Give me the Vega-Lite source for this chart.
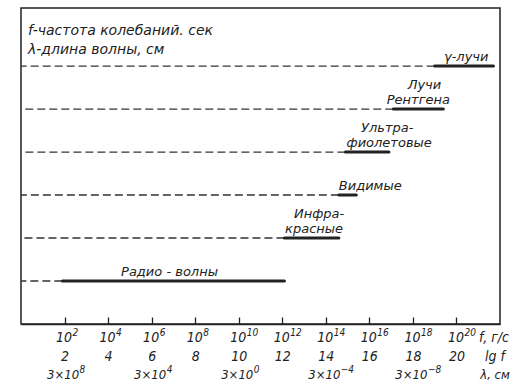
{
  "$schema": "https://vega.github.io/schema/vega-lite/v6.json",
  "width": 479,
  "height": 316,
  "autosize": "none",
  "padding": {"left": 21, "top": 8, "right": 26, "bottom": 67},
  "background": "white",
  "config": {
    "view": {"stroke": "#222", "strokeWidth": 1.5},
    "font": "DejaVu Sans",
    "axis": {
      "labelFont": "Liberation Sans Narrow, DejaVu Sans Condensed, Liberation Sans",
      "labelFontStyle": "italic",
      "labelColor": "#222",
      "labelBaseline": "middle",
      "labelOverlap": false,
      "labelFlush": false,
      "labelBound": false,
      "grid": false,
      "title": null
    }
  },
  "resolve": {"axis": {"x": "independent"}},
  "datasets": {
    "bands": [
      {"name": "Радио-волны", "row": 1, "start": 1.9, "end": 12.1},
      {"name": "Инфракрасные", "row": 2, "start": 12.1, "end": 14.6},
      {"name": "Видимые", "row": 3, "start": 14.6, "end": 15.4},
      {"name": "Ультрафиолетовые", "row": 4, "start": 14.9, "end": 16.9},
      {"name": "Лучи Рентгена", "row": 5, "start": 17.1, "end": 19.4},
      {"name": "γ-лучи", "row": 6, "start": 19.0, "end": 21.7}
    ],
    "labels": [
      {"text": "Радио - волны", "lg": 6.82, "row": 1, "line": 0},
      {"text": "красные", "lg": 13.46, "row": 2, "line": 0},
      {"text": "Инфра-", "lg": 13.69, "row": 2, "line": 1},
      {"text": "Видимые", "lg": 16.04, "row": 3, "line": 0},
      {"text": "фиолетовые", "lg": 16.91, "row": 4, "line": 0},
      {"text": "Ультра-", "lg": 16.82, "row": 4, "line": 1},
      {"text": "Рентгена", "lg": 18.25, "row": 5, "line": 0},
      {"text": "Лучи", "lg": 18.53, "row": 5, "line": 1},
      {"text": "γ-лучи", "lg": 20.45, "row": 6, "line": 0}
    ],
    "header": [
      {"text": "f-частота колебаний. сек", "lg": 0.32, "row": 6.72},
      {"text": "λ-длина волны, см", "lg": 0.32, "row": 6.28}
    ]
  },
  "layer": [
    {
      "data": {"name": "bands"},
      "mark": {"type": "rule", "strokeDash": [8, 4], "strokeWidth": 1.3, "color": "#333"},
      "encoding": {
        "x": {
          "field": "start",
          "type": "quantitative",
          "scale": {"domain": [0, 22], "nice": false, "zero": false},
          "axis": {
            "orient": "bottom",
            "values": [2, 4, 6, 8, 10, 12, 14, 16, 18, 20, 21.75],
            "domainColor": "#222",
            "domainWidth": 1.5,
            "tickColor": {"condition": {"test": "datum.value > 21", "value": "transparent"}, "value": "#222"},
            "tickSize": -7,
            "tickWidth": 1.3,
            "labelFontSize": 14,
            "labelPadding": 39,
            "labelExpr": "datum.value > 21 ? 'lg f' : format(datum.value, 'd')"
          }
        },
        "x2": {"datum": 0},
        "y": {"field": "row", "type": "quantitative", "scale": {"domain": [0, 7.35], "nice": false, "zero": false}, "axis": null}
      }
    },
    {
      "data": {"name": "bands"},
      "mark": {"type": "rule", "strokeWidth": 3, "color": "#222", "strokeCap": "round"},
      "encoding": {
        "x": {
          "field": "start",
          "type": "quantitative",
          "axis": {
            "orient": "bottom",
            "values": [2, 4, 6, 8, 10, 12, 14, 16, 18, 20, 21.75],
            "domain": false,
            "ticks": false,
            "tickSize": 0,
            "labelFontSize": 14,
            "labelPadding": 13,
            "labelOffset": -1,
            "labelExpr": "datum.value > 21 ? 'f, г/с' : '10'"
          }
        },
        "x2": {"field": "end"},
        "y": {"field": "row", "type": "quantitative"}
      }
    },
    {
      "data": {"name": "labels"},
      "transform": [{"filter": "datum.line == 0"}],
      "mark": {"type": "text", "align": "center", "baseline": "alphabetic", "dy": -5, "fontSize": 13, "fontStyle": "italic", "font": "DejaVu Sans", "color": "#222"},
      "encoding": {
        "x": {
          "field": "lg",
          "type": "quantitative",
          "axis": {
            "orient": "bottom",
            "values": [2, 4, 6, 8, 10, 12, 14, 16, 18, 20],
            "domain": false,
            "ticks": false,
            "tickSize": 0,
            "labelFontSize": 10,
            "labelAlign": "left",
            "labelPadding": 8,
            "labelOffset": 7.5,
            "labelExpr": "format(datum.value, 'd')"
          }
        },
        "y": {"field": "row", "type": "quantitative"},
        "text": {"field": "text"}
      }
    },
    {
      "data": {"name": "labels"},
      "transform": [{"filter": "datum.line == 1"}],
      "mark": {"type": "text", "align": "center", "baseline": "alphabetic", "dy": -20, "fontSize": 13, "fontStyle": "italic", "font": "DejaVu Sans", "color": "#222"},
      "encoding": {
        "x": {
          "field": "lg",
          "type": "quantitative",
          "axis": {
            "orient": "bottom",
            "values": [2, 6, 10, 14, 18, 21.75],
            "domain": false,
            "ticks": false,
            "tickSize": 0,
            "labelFontSize": 13,
            "labelPadding": 50,
            "labelOffset": {"condition": {"test": "datum.value > 21", "value": 0}, "value": -2},
            "labelExpr": "datum.value > 21 ? 'λ, см' : '3×10'"
          }
        },
        "y": {"field": "row", "type": "quantitative"},
        "text": {"field": "text"}
      }
    },
    {
      "data": {"name": "header"},
      "mark": {"type": "text", "align": "left", "baseline": "alphabetic", "fontSize": 14, "fontStyle": "italic", "font": "DejaVu Sans", "color": "#222"},
      "encoding": {
        "x": {
          "field": "lg",
          "type": "quantitative",
          "axis": {
            "orient": "bottom",
            "values": [2, 6, 10, 14, 18],
            "domain": false,
            "ticks": false,
            "tickSize": 0,
            "labelFontSize": 10,
            "labelAlign": "left",
            "labelPadding": 45,
            "labelOffset": 14.5,
            "labelExpr": "datum.value == 2 ? '8' : datum.value == 6 ? '4' : datum.value == 10 ? '0' : datum.value == 14 ? '−4' : '−8'"
          }
        },
        "y": {"field": "row", "type": "quantitative"},
        "text": {"field": "text"}
      }
    }
  ]
}
